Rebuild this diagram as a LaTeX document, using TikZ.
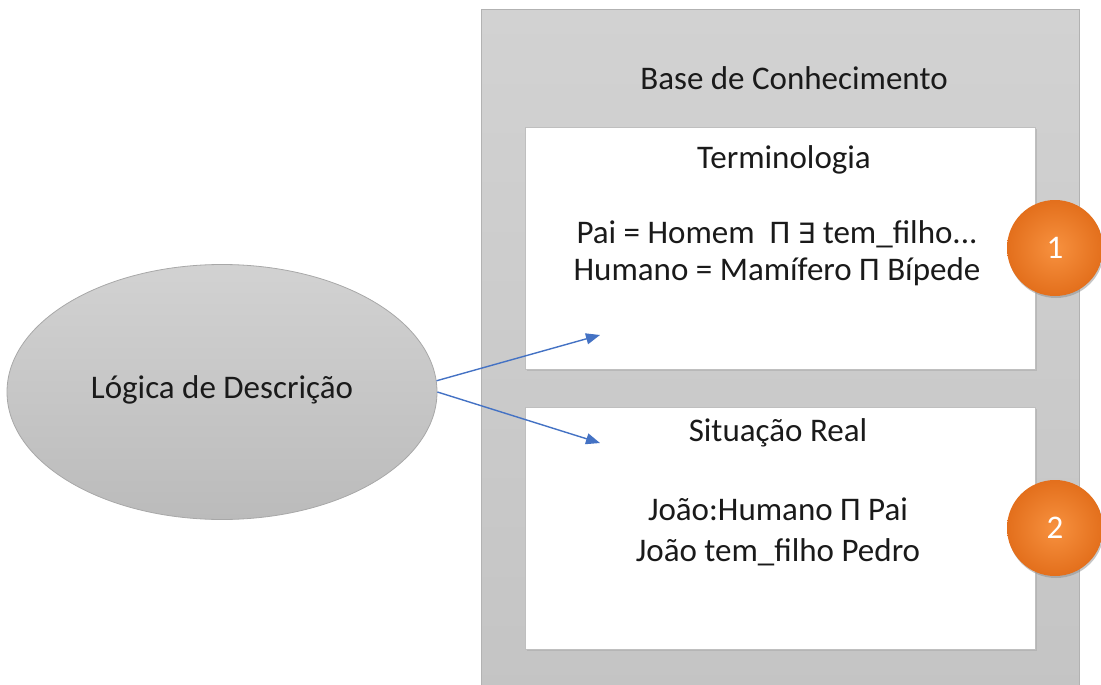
\documentclass[tikz,border=0pt]{standalone}
\usepackage{fontspec}
\setmainfont{Carlito}
\newfontfamily\symfont{DejaVu Sans}
\usetikzlibrary{arrows.meta,shapes.geometric,shadows}
\definecolor{kbgray}{HTML}{C4C4C4}
\definecolor{kbtop}{HTML}{D2D2D2}
\definecolor{elltop}{HTML}{D2D2D2}
\definecolor{ellbot}{HTML}{BBBBBB}
\definecolor{ellline}{HTML}{A8A8A8}
\definecolor{orangeA}{HTML}{F7913F}
\definecolor{orangeB}{HTML}{E36F1C}
\definecolor{arrowblue}{HTML}{4472C4}
\definecolor{txt}{HTML}{1A1A1A}
\tikzset{
  x=1pt, y=-1pt,
  every node/.style={font=\fontsize{33}{40}\selectfont, text=txt},
  panel/.style={fill=white, draw=black!25, line width=0.8pt, minimum width=510pt, minimum height=242pt, anchor=north west, inner sep=0pt,
    drop shadow={shadow xshift=1.5pt, shadow yshift=-1.5pt, fill=black!35, opacity=0.5}},
  badge/.style={circle, minimum size=96pt, inner sep=0pt, text=white, shading=radial, inner color=orangeA, outer color=orangeB,
    drop shadow={shadow xshift=1pt, shadow yshift=-2pt, fill=black!45, opacity=0.5}},
  link/.style={draw=arrowblue, line width=1.4pt, -{Triangle[length=14pt,width=11pt]}},
  lbl/.style={align=center, inner sep=0pt}
}
\begin{document}
\begin{tikzpicture}
\useasboundingbox (0,0) rectangle (1101,685);
% knowledge base container
\node[draw=black!30, line width=0.8pt, top color=kbtop, bottom color=kbgray, minimum width=598pt, minimum height=690pt, anchor=north west, inner sep=0pt] (kb) at (481,9) {};
\node[lbl] (kbtitle) at (794,78) {Base de Conhecimento};
% TBox and ABox panels
\node[panel] (term) at (525,127) {};
\node[panel] (real) at (525,407) {};
\node[lbl] (termtitle) at (784,160) {Terminologia};
\node[lbl, anchor=base] (tline1) at (777,243) {Pai = Homem\ \ Π {\symfont\fontsize{28}{34}\selectfont ∃} tem\_filho...};
\node[lbl, anchor=base] (tline2) at (777,280) {Humano = Mamífero Π Bípede};
\node[lbl] (realtitle) at (778,433) {Situação Real};
\node[lbl, anchor=base] (rline1) at (778,520) {João:Humano Π Pai};
\node[lbl, anchor=base] (rline2) at (778,561) {João tem\_filho Pedro};
% numbered badges
\node[badge] (c1) at (1055,248) {1};
\node[badge] (c2) at (1055,528) {2};
% description logic ellipse
\node[ellipse, draw=ellline, line width=0.8pt, top color=elltop, bottom color=ellbot, minimum width=430pt, minimum height=255pt, inner sep=0pt] (dl) at (222,392) {};
\node[lbl] (dltext) at (222,390) {Lógica de Descrição};
% arrows into the panels
\coordinate (tgt1) at (600,335);
\coordinate (tgt2) at (600,443);
\draw[link] (dl.3) -- (tgt1);
\draw[link] (dl.-0.5) -- (tgt2);
\end{tikzpicture}
\end{document}
